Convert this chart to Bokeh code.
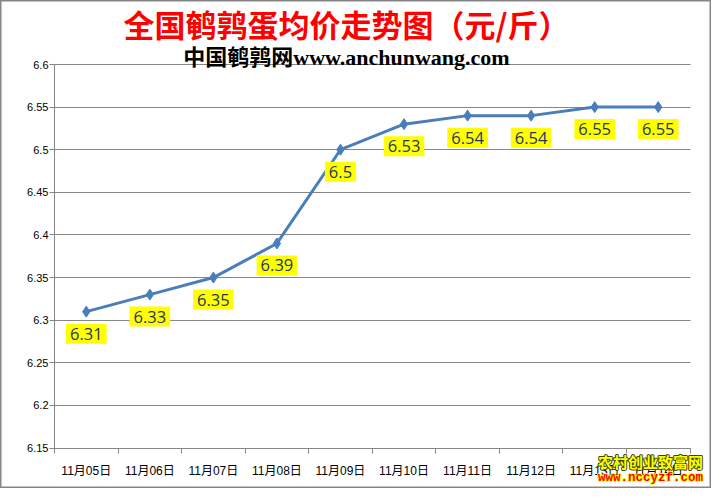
from bokeh.plotting import figure
from bokeh.models import (Range1d, FixedTicker, CustomJSTickFormatter, NumeralTickFormatter,
                          ColumnDataSource, Label, Grid)
from bokeh.core.properties import value
from bokeh.embed import file_html
from bokeh.resources import INLINE

# ---- data ----
dates = ["11月05日", "11月06日", "11月07日", "11月08日", "11月09日",
         "11月10日", "11月11日", "11月12日", "11月13日", "11月14日"]
prices = [6.31, 6.33, 6.35, 6.39, 6.50, 6.53, 6.54, 6.54, 6.55, 6.55]
y_ticks = [6.15, 6.2, 6.25, 6.3, 6.35, 6.4, 6.45, 6.5, 6.55, 6.6]
title_text = "全国鹌鹑蛋均价走势图（元/斤）"
subtitle_text = "中国鹌鹑网www.anchunwang.com"
watermark1 = "农村创业致富网"
watermark2 = "www.nccyzf.com"

n = len(dates)
xs = [i + 0.5 for i in range(n)]
src = ColumnDataSource(dict(x=xs, y=prices, lbl=[f"{v:g}" for v in prices]))

GRAY = "#868686"
BLUE = "#4A7EBB"

# ---- layout (pixels inside the figure) ----
W, H = 711, 488
PL, PR, PT, PB = 54, 689.5, 64, 447.5          # plot-area box
xpx = (PR - PL) / n
ypx = (PB - PT) / (y_ticks[-1] - y_ticks[0])
x_range = Range1d(0 - PL / xpx, n + (W - PR) / xpx)
y_range = Range1d(y_ticks[0] - (H - PB) / ypx, y_ticks[-1] + PT / ypx)

p = figure(width=W, height=H, output_backend="svg", toolbar_location=None,
           x_range=x_range, y_range=y_range,
           min_border_left=0, min_border_right=0, min_border_top=0, min_border_bottom=0,
           background_fill_color="white", border_fill_color="white")
p.outline_line_color = GRAY
p.outline_line_width = 2

# x axis: labels centred in categories, ticks at category boundaries
xa = p.xaxis[0]
xa.fixed_location = y_ticks[0]
xa.bounds = (0, n)
xa.ticker = FixedTicker(ticks=xs, minor_ticks=list(range(n + 1)))
xa.formatter = CustomJSTickFormatter(args=dict(labels=dates),
                                     code="return labels[Math.floor(tick)];")
xa.axis_line_color = GRAY
xa.major_tick_out = 0
xa.major_tick_in = 0
xa.minor_tick_out = 5
xa.minor_tick_in = 0
xa.minor_tick_line_color = GRAY
xa.major_label_standoff = 11
xa.major_label_text_font = "Liberation Sans, Noto Sans CJK SC"
xa.major_label_text_font_size = "12px"
xa.major_label_text_color = "black"

ya = p.yaxis[0]
ya.fixed_location = 0
ya.bounds = (y_ticks[0], y_ticks[-1])
ya.ticker = FixedTicker(ticks=y_ticks)
ya.formatter = NumeralTickFormatter(format="0.0[0]")
ya.axis_line_color = GRAY
ya.major_tick_out = 5
ya.major_tick_in = 0
ya.major_tick_line_color = GRAY
ya.minor_tick_line_color = None
ya.major_label_standoff = 1
ya.major_label_text_font = "Liberation Sans"
ya.major_label_text_font_size = "11px"
ya.major_label_text_color = "black"

p.xgrid.grid_line_color = None
yg = p.ygrid[0]
yg.grid_line_color = GRAY
yg.grid_line_width = 1
if "cross_bounds" in Grid.properties():
    yg.cross_bounds = (0, n)

p.line("x", "y", source=src, line_color=BLUE, line_width=3)
p.scatter("x", "y", source=src, marker="diamond", size=11, fill_color=BLUE, line_color=BLUE)

p.text("x", "y", text="lbl", source=src, y_offset=22, text_align="center",
       text_baseline="middle", text_font=value("Open Sans"), text_font_size="16.5px",
       text_color="#1F3864", background_fill_color="#FFFF00", padding=4)


def fig_label(cx, cy, **kw):
    # cx, cy: position in figure pixels from top-left (frame fills the figure)
    return Label(x=cx, y=H - cy, x_units="screen", y_units="screen",
                 text_align="center", text_baseline="middle", **kw)


p.add_layout(fig_label(346, 23, text=title_text, text_color="#FF0000",
                       text_font="Noto Sans CJK SC", text_font_style="bold",
                       text_font_size="31px"))
p.add_layout(fig_label(346, 57, text=subtitle_text, text_color="black",
                       text_font="Liberation Serif, Noto Sans CJK SC", text_font_style="bold",
                       text_font_size="22px"))

# watermark: outlined text (a fattened copy underneath, the fill on top)
wm1 = dict(text=watermark1, text_font="Noto Sans CJK SC", text_font_style="bold",
           text_font_size="15px")
wm2 = dict(text=watermark2, text_font="Liberation Mono", text_font_style="bold",
           text_font_size="12.5px")
p.add_layout(fig_label(650, 461, text_color="#3C4A00", text_outline_color="#3C4A00", **wm1))
p.add_layout(fig_label(650, 461, text_color="#FFFF00", **wm1))
p.add_layout(fig_label(650, 477, text_color="#FFFF00", text_outline_color="#FFFF00", **wm2))
p.add_layout(fig_label(650, 477, text_color="#FF0000", **wm2))

open("out.html", "w").write(file_html(p, INLINE))
